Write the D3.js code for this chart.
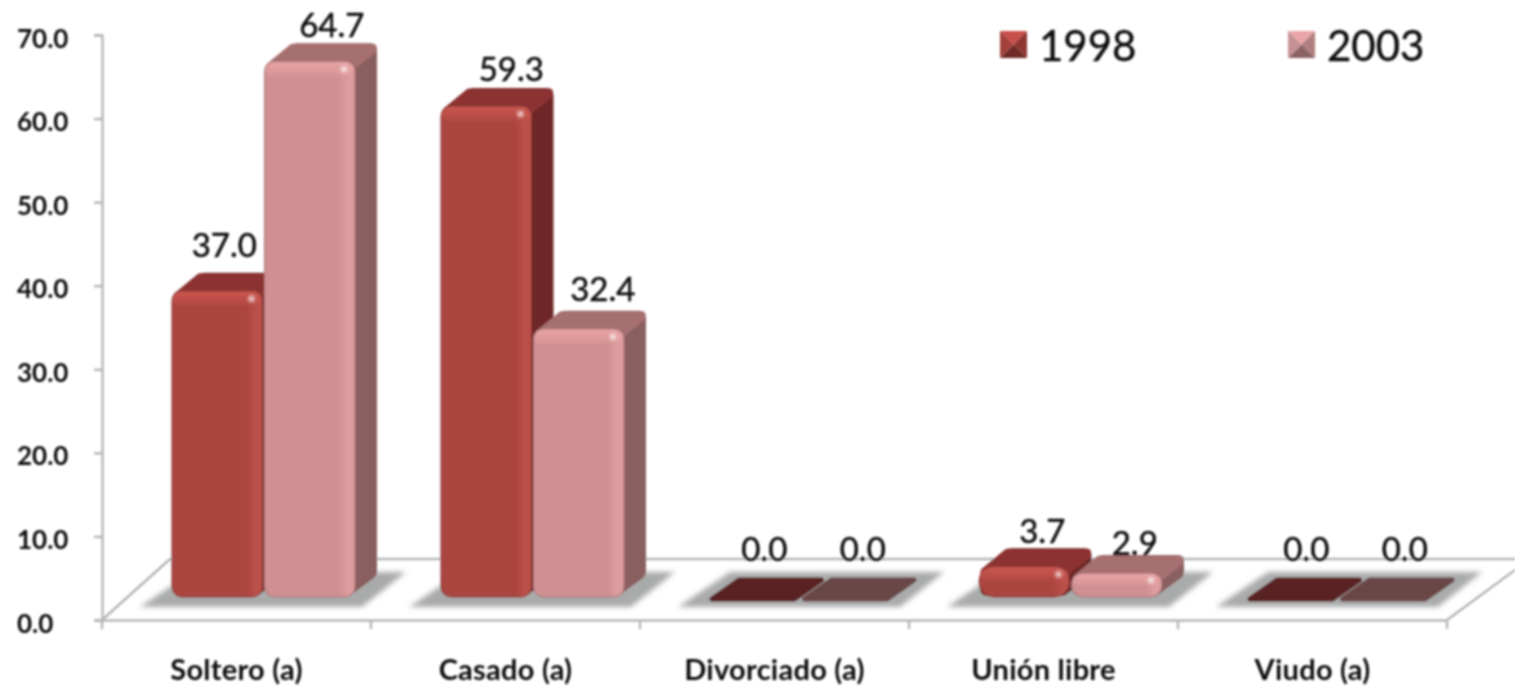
<!DOCTYPE html>
<html><head><meta charset="utf-8">
<script src="https://cdn.jsdelivr.net/npm/d3@7"></script>
<style>html,body{margin:0;padding:0;background:#fff}svg{display:block}text{font-family:Lato,"Open Sans",sans-serif;fill:#111}</style>
</head><body><svg id="c" width="1515" height="690"></svg>
<script>
const categories=["Soltero (a)","Casado (a)","Divorciado (a)","Unión libre","Viudo (a)"];
const series=["1998","2003"];
const values1998=[37.0,59.3,0.0,3.7,0.0];
const values2003=[64.7,32.4,0.0,2.9,0.0];
const yTicks=[0,10,20,30,40,50,60,70];
const colors={ "1998":{front:"#aa4540",edge:"#bb4f4a",side:"#6e2826",top:"#8c3331",hi:"#c9554f",flat:"#5a2020",py:["#c9504a","#8f3633","#6e2a28","#a33f3b"]},
               "2003":{front:"#d09092",edge:"#dd9c9e",side:"#8a5f5f",top:"#a66f70",hi:"#e8a2a3",flat:"#6b4747",py:["#eba5a8","#b07f80","#8c6464","#c49194"]}};
// label nudges [dx,dy] relative to the back top of each bar, per series
const nudge1998=[[-18,-16],[0,-7],[-16,-18],[-7,-5],[-12,-18]];
const nudge2003=[[-3,-6],[-1,-10],[-10,-18],[-7,0],[-6,-18]];

const W=1515,H=690, axisX=102, axisEnd=1447, axisY=620, baseY=597, depthX=24, depthY=18;
const svg=d3.select("#c");
const defs=svg.append("defs");
defs.append("filter").attr("id","soft").attr("x","-5%").attr("y","-5%").attr("width","110%").attr("height","110%")
  .append("feGaussianBlur").attr("stdDeviation",0.9);
defs.append("filter").attr("id","shadow").attr("x","-20%").attr("y","-40%").attr("width","140%").attr("height","180%")
  .append("feGaussianBlur").attr("stdDeviation",2.5);
defs.append("filter").attr("id","glare").attr("x","-100%").attr("y","-100%").attr("width","300%").attr("height","300%")
  .append("feGaussianBlur").attr("stdDeviation",1.6);
series.forEach(s=>{
  const c=colors[s];
  const g=defs.append("linearGradient").attr("id","fr"+s);
  [[0,c.front],[.06,c.front],[.82,c.front],[.92,c.edge],[1,c.edge]].forEach(a=>g.append("stop").attr("offset",a[0]).attr("stop-color",a[1]));
  const t=defs.append("linearGradient").attr("id","bev"+s).attr("x1",0).attr("x2",0).attr("y1",0).attr("y2",1);
  t.append("stop").attr("offset",0).attr("stop-color",c.hi).attr("stop-opacity",1);
  t.append("stop").attr("offset",.55).attr("stop-color",c.hi).attr("stop-opacity",.55);
  t.append("stop").attr("offset",1).attr("stop-color",c.hi).attr("stop-opacity",0);
});

const root=svg.append("g").attr("filter","url(#soft)");
const xBand=d3.scaleBand().domain(categories).range([axisX,axisEnd]);
const xSeries=d3.scaleBand().domain(series).range([70,255]);
const yAxisScale=d3.scaleLinear().domain([0,70]).range([axisY,35]);
const yBar=d3.scaleLinear().domain([0,70]).range([baseY,baseY-8.28*70]);
const valuesOf={ "1998":values1998,"2003":values2003 };
const nudgeOf={ "1998":nudge1998,"2003":nudge2003 };

// floor
const floor=root.append("g").attr("fill","none").attr("stroke","#b4b6b6").attr("stroke-width",2.4);
floor.append("path").attr("d",d3.line()([[axisX,axisY],[axisX+68,axisY-61],[W,axisY-61]]));
floor.append("path").attr("d",d3.line()([[axisEnd,axisY],[W,axisY-50]]));

// y axis
const ya=root.append("g").attr("transform",`translate(${axisX},0)`)
  .call(d3.axisLeft(yAxisScale).tickValues(yTicks).tickFormat(d3.format(".1f")).tickSize(8).tickPadding(8));
ya.selectAll("path,line").attr("stroke","#b4b6b6").attr("stroke-width",2.4);
ya.selectAll("text").attr("font-size",26).attr("font-weight",700).attr("fill","#111").attr("font-family","Lato")
  .attr("text-anchor","start").attr("x",-85).attr("dy",12);

// x axis
const xa=root.append("g").attr("transform",`translate(0,${axisY})`)
  .call(d3.axisBottom(xBand).tickSize(0).tickPadding(28));
xa.select("path").attr("stroke","#b4b6b6").attr("stroke-width",2.4);
xa.selectAll("text").attr("font-size",29).attr("font-weight",700).attr("fill","#111").attr("font-family","Lato")
  .attr("letter-spacing",0.25).attr("y",60).attr("dy",0);
const edges=categories.map(c=>xBand(c)).concat([axisEnd]);
xa.selectAll(".edge").data(edges).join("line").attr("class","edge")
  .attr("x1",d=>d).attr("x2",d=>d).attr("y1",0).attr("y2",9).attr("stroke","#b4b6b6").attr("stroke-width",2.4);

// shadows
root.append("g").selectAll("path").data(categories).join("path")
  .attr("filter","url(#shadow)").attr("fill","#a9aaaa")
  .attr("d",c=>{const x=xBand(c);return d3.line()([[x+38,607],[x+260,607],[x+304,572],[x+90,572]])+"Z";});

// bars
const line=d3.line();
categories.forEach((cat,i)=>{
  series.forEach(s=>{
    const v=valuesOf[s][i], c=colors[s];
    const x=xBand(cat)+xSeries(s), w=xSeries.bandwidth()-2, top=yBar(v), g=root.append("g");
    if(v===0){
      const y0=baseY+2, y1=baseY-17;
      g.append("path").attr("fill",c.flat).attr("stroke",c.flat).attr("stroke-width",5).attr("stroke-linejoin","round")
       .attr("d",line([[x+2,y0],[x+w-6,y0],[x+w+21,y1],[x+29,y1]])+"Z");
      return;
    }
    const h=baseY-top, r=h<50?Math.min(15,h/2):10;
    // silhouette of side and back
    g.append("path").attr("fill",c.side).attr("stroke",c.side).attr("stroke-width",14).attr("stroke-linejoin","round")
     .attr("d",line([[x+8,top+8],[x+depthX+8,top-depthY+7],[x+w+depthX-9,top-depthY+7],[x+w+depthX-9,baseY-depthY-7],[x+w-8,baseY-8],[x+8,baseY-8]])+"Z");
    // top face
    g.append("path").attr("fill",c.top).attr("stroke",c.top).attr("stroke-width",7).attr("stroke-linejoin","round")
     .attr("d",line([[x+5,top+5],[x+depthX+4,top-depthY+4],[x+w+depthX-6,top-depthY+4],[x+w+depthX-6,top-depthY+7],[x+w-5,top+7]])+"Z");
    g.append("rect").attr("x",x).attr("y",top).attr("width",w).attr("height",h).attr("rx",r).attr("ry",r)
     .attr("fill",`url(#fr${s})`).attr("stroke",d3.color(c.front).darker(.6)).attr("stroke-width",1);
    g.append("rect").attr("x",x+1).attr("y",top+1).attr("width",w-2).attr("height",Math.min(16,h*.55)).attr("rx",r-1).attr("ry",r-1)
     .attr("fill",`url(#bev${s})`);
    g.append("ellipse").attr("cx",x+w-11).attr("cy",top+Math.min(8,h*.3)).attr("rx",3).attr("ry",3).attr("fill","#fff").attr("opacity",.75).attr("filter","url(#glare)");
  });
});

// value labels
categories.forEach((cat,i)=>{
  series.forEach(s=>{
    const v=valuesOf[s][i], n=nudgeOf[s][i];
    const x=xBand(cat)+xSeries(s)+xSeries.bandwidth()/2+depthX+n[0];
    const y=yBar(v)-depthY+n[1];
    root.append("text").attr("x",x).attr("y",y).attr("text-anchor","middle").attr("font-size",33)
      .attr("stroke","#111").attr("stroke-width",0.5).text(d3.format(".1f")(v));
  });
});

// legend
const legendX=d3.scaleOrdinal().domain(series).range([1000,1288]);
series.forEach(s=>{
  const x=legendX(s),y=31,z=27,m=z/2,c=colors[s].py;
  const g=root.append("g");
  const pts=[[x,y],[x+z,y],[x+z,y+z],[x,y+z]], ctr=[x+m,y+m];
  pts.forEach((p,k)=>{
    g.append("path").attr("fill",c[k]).attr("d",line([p,pts[(k+1)%4],ctr])+"Z");
  });
  root.append("text").attr("x",x+39).attr("y",61).attr("font-size",42).attr("stroke","#111").attr("stroke-width",0.4).text(s);
});
</script></body></html>
